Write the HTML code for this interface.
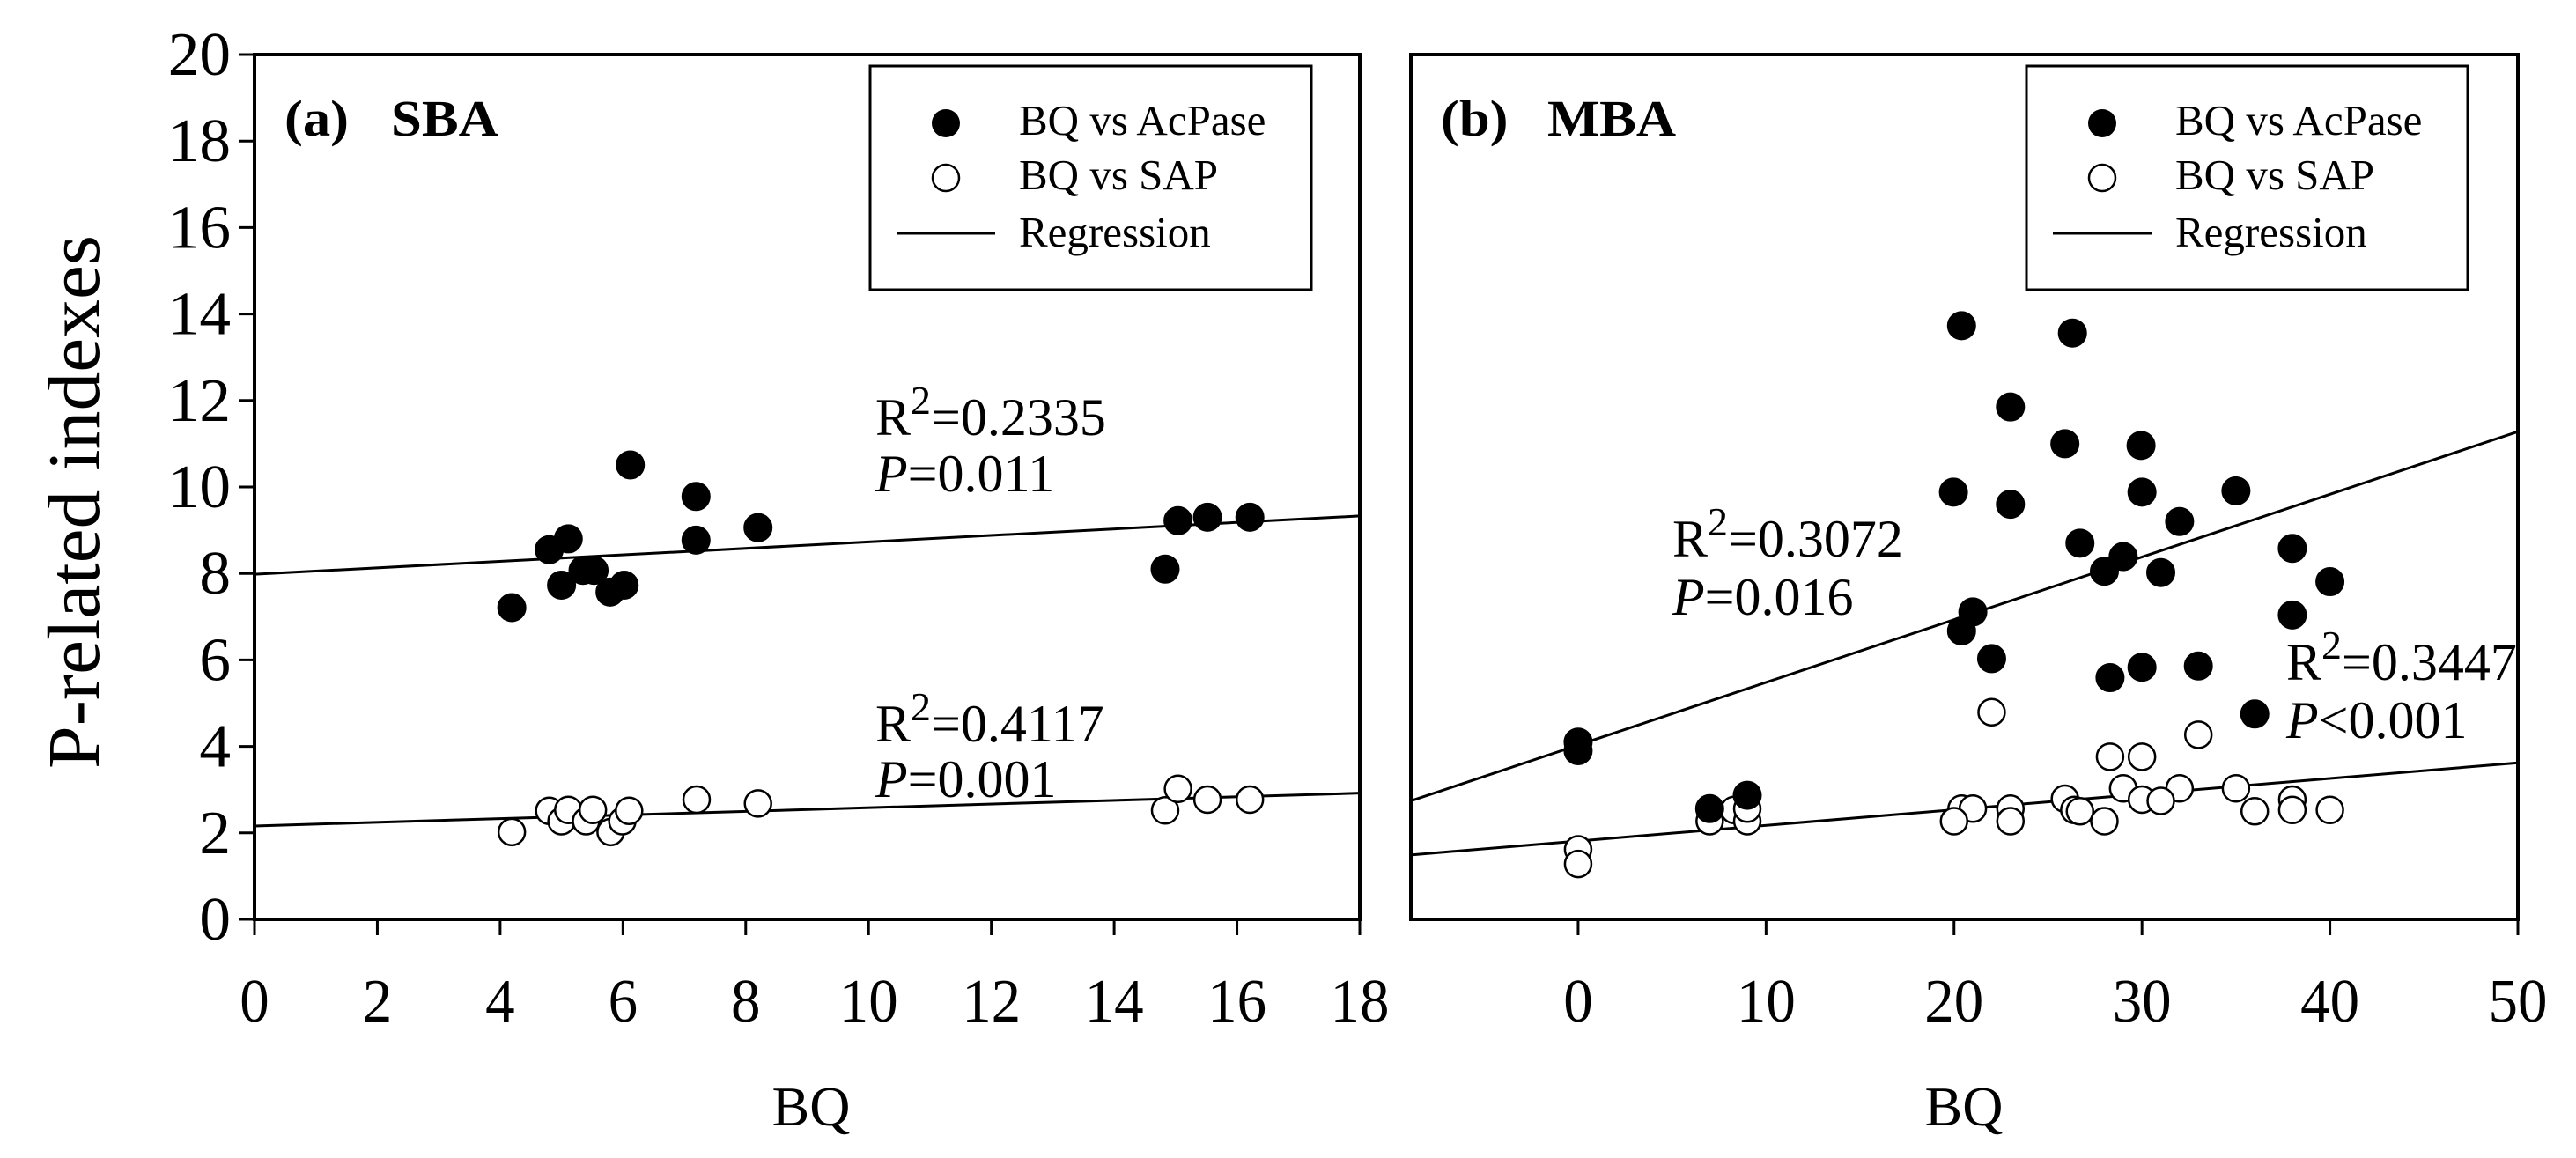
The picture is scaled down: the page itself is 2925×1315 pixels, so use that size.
<!DOCTYPE html>
<html><head><meta charset="utf-8"><style>
html,body{margin:0;padding:0;background:#fff;}
svg{display:block;}
text{font-family:"Liberation Serif","Times New Roman",serif;fill:#000;}
</style></head>
<body>
<svg id="chart" width="2925" height="1315" viewBox="0 0 2925 1315" xmlns="http://www.w3.org/2000/svg">
<rect x="0" y="0" width="2925" height="1315" fill="#fff"/>
<text transform="translate(112,570) rotate(-90)" text-anchor="middle" font-size="84" textLength="606" lengthAdjust="spacingAndGlyphs">P-related indexes</text>
<g id="pa"></g>
<g id="pb"></g>
</svg>
<script>
// Panel (a) SBA data
const aAcX = [4.19,4.8,5.0,5.11,5.35,5.53,5.79,6.02,6.12,7.19,7.19,8.2,14.83,15.04,15.52,16.21];
const aAcY = [7.21,8.55,7.73,8.8,8.07,8.07,7.57,7.73,10.51,9.78,8.77,9.06,8.1,9.22,9.3,9.3];
const aSapX = [4.19,4.8,5.0,5.11,5.4,5.51,5.8,5.99,6.1,7.2,8.2,14.83,15.04,15.52,16.21];
const aSapY = [2.02,2.51,2.27,2.53,2.27,2.53,2.02,2.27,2.51,2.77,2.68,2.52,3.02,2.77,2.77];
const aRegAc = [7.98,9.33];
const aRegSap = [2.16,2.92];
const aXTicks = [0,2,4,6,8,10,12,14,16,18];
const yTicks = [0,2,4,6,8,10,12,14,16,18,20];
// Panel (b) MBA data
const bAcX = [20.4,26.3,23,25.9,29.95,19.97,30,35,23,32,26.7,29,38,28,31,40,21,20.4,38,22,30,33,28.3,36,0,0,7,9];
const bAcY = [13.73,13.56,11.85,11.0,10.96,9.88,9.88,9.91,9.6,9.2,8.7,8.39,8.58,8.05,8.02,7.81,7.11,6.67,7.04,6.03,5.83,5.86,5.59,4.75,4.1,3.9,2.56,2.87];
const bSapX = [22,33,28.3,30,29,32,35,25.9,30,31,38,20.4,21,23,26.4,26.7,36,38,40,20,23,28,7,8.3,9,9,0,0];
const bSapY = [4.79,4.27,3.76,3.76,3.03,3.03,3.03,2.79,2.77,2.74,2.77,2.56,2.56,2.56,2.53,2.5,2.5,2.53,2.53,2.27,2.27,2.27,2.27,2.53,2.27,2.56,1.62,1.28];
const bRegAc = [2.74,11.28];
const bRegSap = [1.49,3.62];
const bXTicks = [0,10,20,30,40,50];

const NS = "http://www.w3.org/2000/svg";
function mk(parent, tag, attrs){
  const e = document.createElementNS(NS, tag);
  for (const k in attrs) e.setAttribute(k, attrs[k]);
  parent.appendChild(e);
  return e;
}
const Y0 = 1044, Y20 = 62;
function sy(v){ return Y0 + (Y20 - Y0) * v / 20; }

function panel(g, cfg){
  const sx = v => cfg.x0 + (cfg.x1 - cfg.x0) * (v - cfg.xmin) / (cfg.xmax - cfg.xmin);
  const fr = mk(g, 'rect', {x:cfg.x0, y:Y20, width:cfg.x1-cfg.x0, height:Y0-Y20, fill:'none', stroke:'#000', 'stroke-width':4});
  
  
  cfg.xticks.forEach(t => {
    const l = mk(g, 'line', {x1:sx(t), x2:sx(t), y1:Y0, y2:Y0+18, stroke:'#000', 'stroke-width':3});
    
    
    const tx = mk(g, 'text', {x:0, y:0, 'text-anchor':'middle', 'font-size':62, transform:'translate('+sx(t)+',1160) scale(1.08,1.12)'});
    tx.textContent = t;
    
    
  });
  if (cfg.yticks) {
    yTicks.forEach(t => {
      const l = mk(g, 'line', {x1:cfg.x0-18, x2:cfg.x0, y1:sy(t), y2:sy(t), stroke:'#000', 'stroke-width':3});
      
      
      const tx = mk(g, 'text', {x:0, y:0, 'text-anchor':'end', 'font-size':62, transform:'translate(262,'+(sy(t)+23)+') scale(1.15,1.12)'});
      tx.textContent = t;
      
      
    });
  }
  const xt = mk(g, 'text', {x:cfg.xTitleX, y:1278, 'text-anchor':'middle', 'font-size':64});
  xt.textContent = 'BQ';
  
  
  [cfg.regAc, cfg.regSap].forEach((r, i) => {
    const l = mk(g, 'line', {x1:sx(cfg.xmin), y1:sy(r[0]), x2:sx(cfg.xmax), y2:sy(r[1]), stroke:'#000', 'stroke-width':3});
    
    
  });
  cfg.sapX.forEach((x, i) => {
    const c = mk(g, 'circle', {cx:sx(x), cy:sy(cfg.sapY[i]), r:15, fill:'#fff', stroke:'#000', 'stroke-width':2.5});
    
    
  });
  cfg.acX.forEach((x, i) => {
    const c = mk(g, 'circle', {cx:sx(x), cy:sy(cfg.acY[i]), r:16, fill:'#000', stroke:'#000', 'stroke-width':1});
    
    
  });
  const pl = mk(g, 'text', {x:cfg.x0+34, y:154, 'font-size':58, 'font-weight':'bold', transform:'translate('+(-(cfg.x0+34)*0.08)+',0) scale(1.08,1)'});
  pl.textContent = cfg.label;
  
  
  const pn = mk(g, 'text', {x:cfg.x0+155, y:154, 'font-size':58, 'font-weight':'bold', transform:'translate('+(-(cfg.x0+155)*0.08)+',0) scale(1.08,1)'});
  pn.textContent = cfg.name;
  
  
  const L = cfg.x0 + 699;
  const lg = mk(g, 'g', {});
  
  
  mk(lg, 'rect', {x:L, y:75, width:501, height:254, fill:'#fff', stroke:'#000', 'stroke-width':3});
  mk(lg, 'circle', {cx:L+86, cy:140, r:16, fill:'#000'});
  mk(lg, 'circle', {cx:L+86, cy:202, r:15, fill:'#fff', stroke:'#000', 'stroke-width':2.5});
  mk(lg, 'line', {x1:L+30, x2:L+142, y1:265, y2:265, stroke:'#000', 'stroke-width':3});
  [['BQ vs AcPase',153],['BQ vs SAP',215],['Regression',280]].forEach(a => {
    const t = mk(lg, 'text', {x:L+169, y:a[1], 'font-size':49});
    t.textContent = a[0];
    
    
  });
  cfg.ann.forEach(a => {
    const t1 = mk(g, 'text', {x:a[0], y:a[1], 'font-size':60});
    t1.innerHTML = 'R<tspan dy="-24" font-size="46">2</tspan><tspan dy="24">=' + a[2] + '</tspan>';
    
    
    const t2 = mk(g, 'text', {x:a[0], y:a[3], 'font-size':60});
    t2.innerHTML = '<tspan font-style="italic">P</tspan>' + a[4];
    
    
  });
}

panel(document.getElementById('pa'), {
  x0:289, x1:1544, xmin:0, xmax:18, xticks:aXTicks, yticks:true, xTitleX:921,
  acX:aAcX, acY:aAcY, sapX:aSapX, sapY:aSapY, regAc:aRegAc, regSap:aRegSap,
  label:'(a)', name:'SBA',
  ann:[[994,494,'0.2335',558,'=0.011'],[994,842,'0.4117',905,'=0.001']]
});
panel(document.getElementById('pb'), {
  x0:1602, x1:2859, xmin:-8.9, xmax:50, xticks:bXTicks, yticks:false, xTitleX:2230,
  acX:bAcX, acY:bAcY, sapX:bSapX, sapY:bSapY, regAc:bRegAc, regSap:bRegSap,
  label:'(b)', name:'MBA',
  ann:[[1899,632,'0.3072',698,'=0.016'],[2596,772,'0.3447',838,'&lt;0.001']]
});
</script>
</body></html>
